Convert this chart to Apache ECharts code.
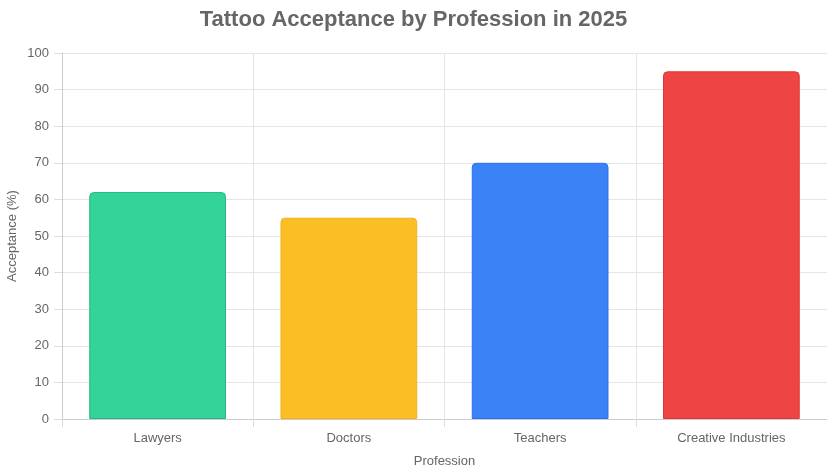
<!DOCTYPE html>
<html>
<head>
<meta charset="utf-8">
<script src="https://cdn.jsdelivr.net/npm/echarts@6/dist/echarts.min.js"></script>
<style>html,body{margin:0;padding:0;background:#fff;}#c{width:827px;height:475px;}</style>
</head>
<body>
<div id="c"></div>
<script>
const categories = ['Lawyers', 'Doctors', 'Teachers', 'Creative Industries'];
const acceptance = [62, 55, 70, 95];
const barColors = ['#34d399', '#fbbf24', '#3b82f6', '#ef4444'];
const borderColors = ['#1fb884', '#f0b020', '#2a6ff0', '#e03838'];
const yTicks = { min: 0, max: 100, interval: 10 };

const chart = echarts.init(document.getElementById('c'), null, { renderer: 'canvas' });
const font = 'Arial, "Liberation Sans", Helvetica, sans-serif';
chart.setOption({
  animation: false,
  backgroundColor: '#fff',
  title: {
    text: 'Tattoo Acceptance by Profession in 2025',
    left: 'center', top: 4,
    textStyle: { fontSize: 22, fontWeight: 'bold', color: '#666', fontFamily: font }
  },
  grid: { left: 62, right: 0, top: 53, bottom: 56, containLabel: false, outerBoundsMode: 'none' },
  xAxis: {
    type: 'category',
    data: categories,
    name: 'Profession',
    nameLocation: 'middle',
    nameGap: 36,
    nameTextStyle: { fontSize: 13, color: '#666', fontFamily: font },
    axisLine: { lineStyle: { color: '#ccc' } },
    axisTick: { show: true, length: 8, lineStyle: { color: '#ddd' } },
    axisLabel: { fontSize: 13, color: '#666', margin: 13, fontFamily: font },
    splitLine: { show: true, lineStyle: { color: '#e5e5e5' } }
  },
  yAxis: {
    type: 'value',
    min: yTicks.min, max: yTicks.max, interval: yTicks.interval,
    name: 'Acceptance (%)',
    nameLocation: 'middle',
    nameGap: 43,
    nameMoveOverlap: false,
    nameRotate: 90,
    nameTextStyle: { fontSize: 13, color: '#666', fontFamily: font },
    axisLine: { show: true, lineStyle: { color: '#ccc' } },
    axisTick: { show: true, length: 8, lineStyle: { color: '#ddd' } },
    axisLabel: { fontSize: 13, color: '#666', margin: 13, fontFamily: font },
    splitLine: { show: true, lineStyle: { color: '#e5e5e5' } }
  },
  series: [{
    type: 'bar',
    data: acceptance.map((v, i) => ({
      value: v,
      itemStyle: { color: barColors[i], borderColor: borderColors[i], borderWidth: 1, borderRadius: [4, 4, 0, 0] }
    })),
    barCategoryGap: '28.5%'
  }]
});
</script>
</body>
</html>
